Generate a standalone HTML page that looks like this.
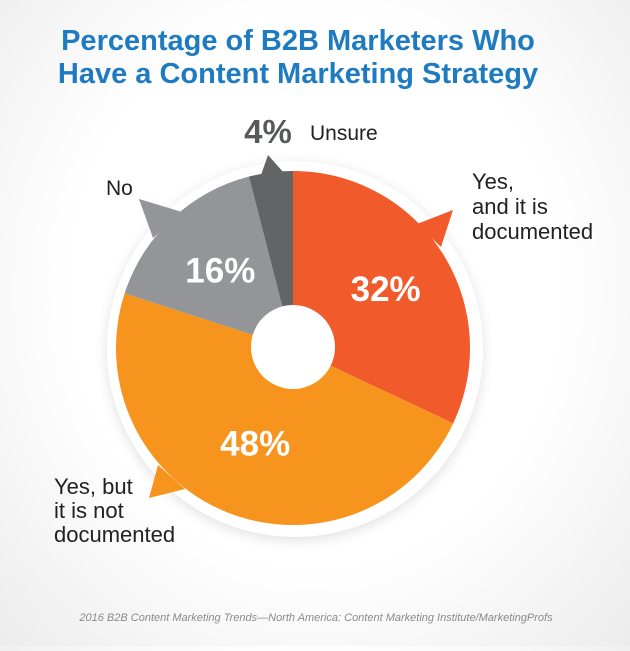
<!DOCTYPE html>
<html><head><meta charset="utf-8"><style>
body{margin:0;width:630px;height:646px;overflow:hidden;background:radial-gradient(ellipse at 50% 45%,#ffffff 55%,#ececec 100%);font-family:"Liberation Sans",sans-serif;}
</style></head><body>
<svg width="630" height="646">
<text x="298" y="50" text-anchor="middle" font-size="29" font-weight="bold" fill="#1f7bc1">Percentage of B2B Marketers Who</text>
<text x="298" y="83" text-anchor="middle" font-size="29" font-weight="bold" fill="#1f7bc1">Have a Content Marketing Strategy</text>
<circle cx="295" cy="349" r="188" fill="#fff" style="filter:drop-shadow(0 3px 6px rgba(0,0,0,0.12))"/>
<g id="slices"></g>
<polygon points="453,210 417,224 441,247" fill="#f15a2b"/>
<polygon points="149,498 158,465 185,489" fill="#f7941d"/>
<polygon points="139,199 182,212 153,238" fill="#939598"/>
<polygon points="268,155 261,175 284,173" fill="#636466"/>
<circle cx="293" cy="347" r="42" fill="#fff"/>
<g id="vals" font-size="35" font-weight="bold" fill="#fff" text-anchor="middle"></g>
<text x="268" y="143" font-size="33" font-weight="bold" fill="#58595b" text-anchor="middle">4%</text>
<text x="310" y="140" font-size="21" fill="#222">Unsure</text>
<text x="106" y="195" font-size="21" fill="#222">No</text>
<g font-size="22" fill="#222"><text x="472" y="189">Yes,</text><text x="472" y="214">and it is</text><text x="472" y="239">documented</text></g>
<g font-size="22" fill="#222"><text x="54" y="494">Yes, but</text><text x="54" y="518">it is not</text><text x="54" y="542">documented</text></g>
<text x="316" y="621" text-anchor="middle" font-size="11" font-style="italic" fill="#8a8a8a">2016 B2B Content Marketing Trends—North America: Content Marketing Institute/MarketingProfs</text>
</svg>
<script>
const categories=["Yes, and it is documented","Yes, but it is not documented","No","Unsure"];
const values=[32,48,16,4];
const colors=["#f15a2b","#f7941d","#939598","#636466"];
const valueLabels=["32%","48%","16%",""];
const cx=293,cy=348,R=177;
const g=document.getElementById('slices'),vg=document.getElementById('vals');
const total=values.reduce((a,b)=>a+b,0);
let a0=0;
const lr=[0.62,0.58,0.6,0.6];
values.forEach((v,i)=>{
 const a1=a0+v/total*Math.PI*2;
 const p=t=>[cx+R*Math.sin(t),cy-R*Math.cos(t)];
 const [x0,y0]=p(a0),[x1,y1]=p(a1);
 const path=document.createElementNS('http://www.w3.org/2000/svg','path');
 path.setAttribute('d',`M${cx},${cy}L${x0},${y0}A${R},${R} 0 ${a1-a0>Math.PI?1:0} 1 ${x1},${y1}Z`);
 path.setAttribute('fill',colors[i]);
 
 
 g.appendChild(path);
 if(valueLabels[i]){
  const m=(a0+a1)/2;
  const t=document.createElementNS('http://www.w3.org/2000/svg','text');
  t.setAttribute('x',cx+R*lr[i]*Math.sin(m));
  t.setAttribute('y',cy-R*lr[i]*Math.cos(m)+12);
  t.textContent=valueLabels[i];
  
  
  vg.appendChild(t);
 }
 a0=a1;
});
</script>
</body></html>
